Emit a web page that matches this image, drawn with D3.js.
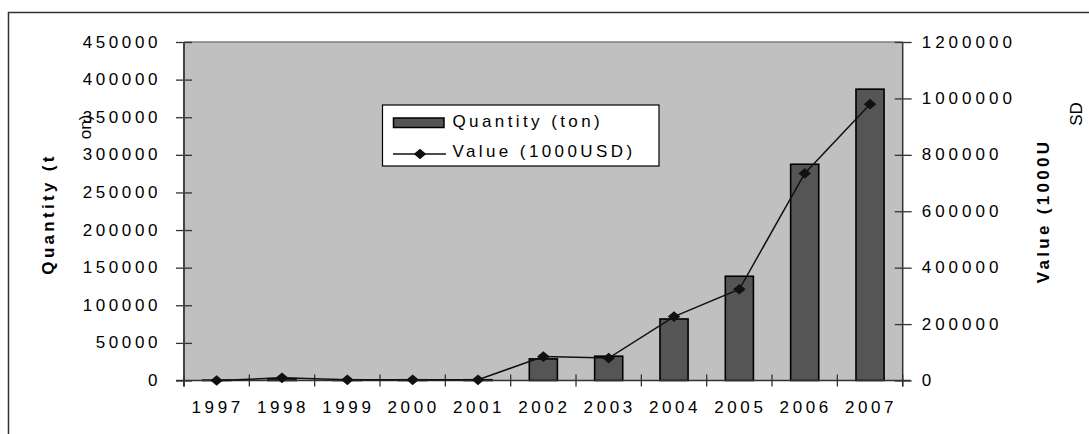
<!DOCTYPE html>
<html><head><meta charset="utf-8">
<script src="https://cdn.jsdelivr.net/npm/d3@7"></script>
<style>
html,body{margin:0;padding:0;background:#fff;}
svg{display:block;font-family:"Liberation Sans",Arial,sans-serif;}
</style></head>
<body>
<svg id="chart" width="1089" height="434"></svg>
<script>
const years = ["1997","1998","1999","2000","2001","2002","2003","2004","2005","2006","2007"];
const quantity = [500, 2500, 1000, 1000, 1000, 28700, 32300, 81800, 138600, 287500, 387300];
const valueUSD = [0, 9500, 2500, 2500, 2500, 85000, 79500, 226500, 323500, 734000, 979500];
const leftTicks = [0, 50000, 100000, 150000, 200000, 250000, 300000, 350000, 400000, 450000];
const rightTicks = [0, 200000, 400000, 600000, 800000, 1000000, 1200000];
const seriesNames = ["Quantity (ton)", "Value (1000USD)"];

const svg = d3.select("#chart");
const L = 184, R = 902.7, T = 42, B = 380.5;
const FF = "Liberation Sans, Arial, sans-serif";

// outer border
svg.append("rect").attr("x", 8.5).attr("y", 12.5).attr("width", 1200).attr("height", 600)
  .attr("fill", "none").attr("stroke", "#333").attr("stroke-width", 1.5);

const x = d3.scaleBand().domain(years).range([L, R]).paddingInner(0).paddingOuter(0);
const yL = d3.scaleLinear().domain([0, 450000]).range([B, T]);
const yR = d3.scaleLinear().domain([0, 1200000]).range([B, T]);

// plot area
svg.append("rect").attr("x", L).attr("y", T).attr("width", R - L).attr("height", B - T)
  .attr("fill", "#c0c0c0");
svg.append("line").attr("x1", L).attr("x2", R).attr("y1", T).attr("y2", T)
  .attr("stroke", "#808080").attr("stroke-width", 1.5);

// bars
const bw = x.bandwidth() * 0.43;
svg.append("g").selectAll("rect").data(years).join("rect")
  .attr("x", d => x(d) + x.bandwidth() / 2 - bw / 2)
  .attr("y", (d, i) => yL(quantity[i]))
  .attr("width", bw)
  .attr("height", (d, i) => B - yL(quantity[i]))
  .attr("fill", "#555555").attr("stroke", "#000").attr("stroke-width", 1.6);

// left axis
const fontSize = 17;
const gL = svg.append("g").attr("transform", `translate(${L},0)`)
  .call(d3.axisLeft(yL).tickValues(leftTicks).tickSize(0).tickFormat(d3.format("d")));
gL.select(".domain").remove();
gL.selectAll(".tick line").remove();
gL.selectAll(".tick").append("line").attr("x1", -8).attr("x2", 8).attr("stroke", "#333").attr("stroke-width", 1.3);
gL.append("line").attr("x1", 0).attr("x2", 0).attr("y1", T).attr("y2", B + 6).attr("stroke", "#444").attr("stroke-width", 2);
gL.selectAll(".tick text").attr("x", -23).attr("dy", "0.3em")
  .attr("font-size", fontSize).attr("font-family", FF)
  .attr("letter-spacing", 3.6).attr("fill", "#000").attr("text-anchor", "end");

// right axis
const gR = svg.append("g").attr("transform", `translate(${R},0)`)
  .call(d3.axisRight(yR).tickValues(rightTicks).tickSize(0).tickFormat(d3.format("d")));
gR.select(".domain").remove();
gR.selectAll(".tick").append("line").attr("x1", -8).attr("x2", 9).attr("stroke", "#333").attr("stroke-width", 1.3);
gR.append("line").attr("x1", 0).attr("x2", 0).attr("y1", T).attr("y2", B + 6).attr("stroke", "#333").attr("stroke-width", 1.5);
gR.selectAll(".tick text").attr("x", 19).attr("dy", "0.3em")
  .attr("font-size", fontSize).attr("font-family", FF)
  .attr("letter-spacing", 4).attr("fill", "#000");

// bottom axis
const gB = svg.append("g").attr("transform", `translate(0,${B})`)
  .call(d3.axisBottom(x).tickSize(0));
gB.select(".domain").remove();
gB.append("line").attr("x1", L - 8).attr("x2", R + 8).attr("y1", 0).attr("y2", 0)
  .attr("stroke", "#333").attr("stroke-width", 1.5);
const bounds = years.map(d => x(d)).concat([x(years[years.length - 1]) + x.bandwidth()]);
gB.selectAll(".bt").data(bounds).join("line").attr("class", "bt")
  .attr("x1", d => d).attr("x2", d => d).attr("y1", -6).attr("y2", 6)
  .attr("stroke", "#333").attr("stroke-width", 1.3);
gB.selectAll(".tick text").attr("y", 32.5).attr("dy", 0).attr("dx", 1)
  .attr("font-size", fontSize).attr("font-family", FF)
  .attr("letter-spacing", 3.6).attr("fill", "#000");

// line series
const cx = d => x(d) + x.bandwidth() / 2;
const line = d3.line().x(d => cx(d[0])).y(d => yR(d[1]));
const pts = years.map((d, i) => [d, valueUSD[i]]);
svg.append("path").datum(pts).attr("d", line).attr("fill", "none")
  .attr("stroke", "#111").attr("stroke-width", 1.5);
const diamond = d3.symbol().type(d3.symbolSquare).size(78);
svg.append("g").selectAll("path").data(pts).join("path")
  .attr("d", diamond)
  .attr("transform", d => `translate(${cx(d[0])},${yR(d[1])}) scale(1,0.86) rotate(45)`)
  .attr("fill", "#111");

// axis titles
svg.append("text").attr("transform", "translate(54,214) rotate(-90)")
  .attr("text-anchor", "middle").attr("font-weight", "bold").attr("font-size", fontSize)
  .attr("font-family", FF).attr("letter-spacing", 3.3).text("Quantity (t");
svg.append("text").attr("transform", "translate(90.5,127) rotate(-90)")
  .attr("text-anchor", "middle").attr("font-size", fontSize).attr("font-family", FF).text("on)");
svg.append("text").attr("transform", "translate(1048.5,211) rotate(-90)")
  .attr("text-anchor", "middle").attr("font-weight", "bold").attr("font-size", fontSize)
  .attr("font-family", FF).attr("letter-spacing", 3.3).text("Value (1000U");
svg.append("text").attr("transform", "translate(1082,114) rotate(-90)")
  .attr("text-anchor", "middle").attr("font-size", fontSize).attr("font-family", FF).text("SD");

// legend
const lg = svg.append("g");
lg.append("rect").attr("x", 382.5).attr("y", 105).attr("width", 276.5).attr("height", 61)
  .attr("fill", "#fff").attr("stroke", "#000").attr("stroke-width", 1.2);
lg.append("rect").attr("x", 393.5).attr("y", 118).attr("width", 50.5).attr("height", 9.5)
  .attr("fill", "#555555").attr("stroke", "#000").attr("stroke-width", 1.5);
lg.append("line").attr("x1", 393).attr("x2", 446).attr("y1", 154).attr("y2", 154)
  .attr("stroke", "#111").attr("stroke-width", 1.5);
lg.append("path").attr("d", diamond).attr("transform", "translate(420,154) scale(1,0.86) rotate(45)").attr("fill", "#111");
lg.selectAll("text.lt").data(seriesNames).join("text").attr("class", "lt")
  .attr("x", 452.5).attr("y", (d, i) => i === 0 ? 127 : 157)
  .attr("font-size", fontSize).attr("font-family", FF).attr("letter-spacing", 3.4).text(d => d);
</script>
</body></html>
